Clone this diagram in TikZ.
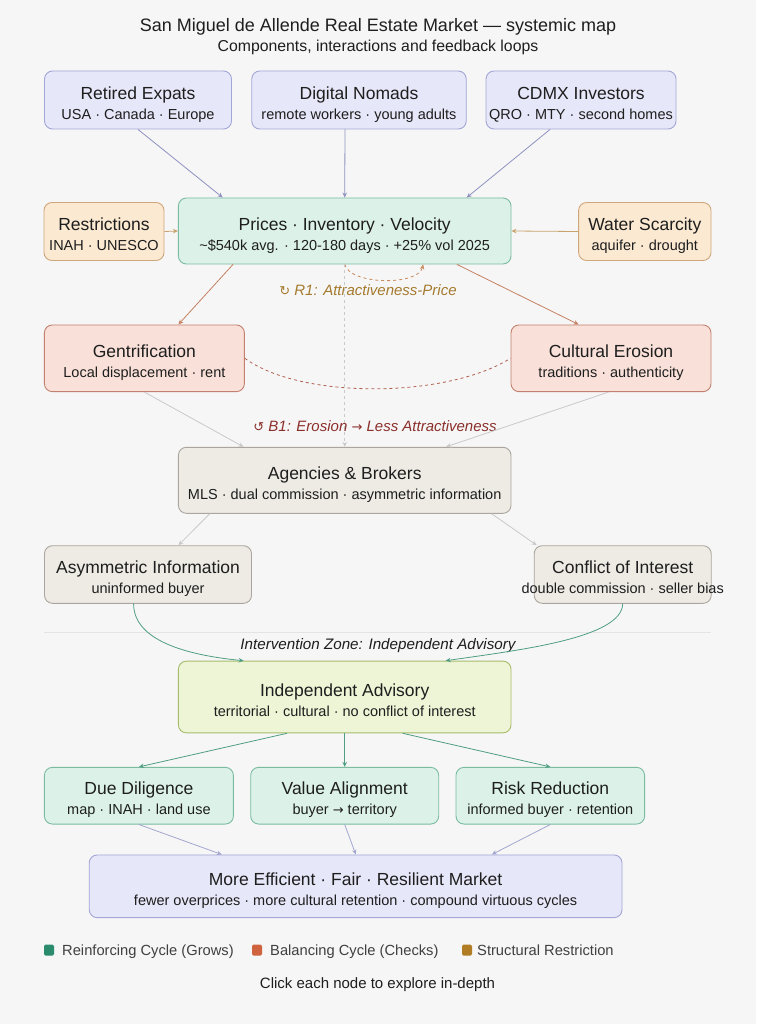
\documentclass[tikz,border=0pt]{standalone}
\usepackage{fontspec}
\setmainfont{Liberation Sans}
\newfontfamily\symf{DejaVu Sans}
\usetikzlibrary{arrows.meta}
\definecolor{bgc}{HTML}{F6F6F6}
\definecolor{txt}{HTML}{1E1E1E}
\definecolor{lavF}{HTML}{E6E7F8}
\definecolor{lavD}{HTML}{A3A6D6}
\definecolor{minF}{HTML}{DCF2E9}
\definecolor{minD}{HTML}{7BBBA0}
\definecolor{pchF}{HTML}{FBE9D2}
\definecolor{pchD}{HTML}{D0A77A}
\definecolor{salF}{HTML}{F9E1D9}
\definecolor{salD}{HTML}{C3806F}
\definecolor{gryF}{HTML}{EEEBE5}
\definecolor{gryD}{HTML}{ABA69D}
\definecolor{ygF}{HTML}{EEF5D6}
\definecolor{ygD}{HTML}{A5BC6A}
\definecolor{lavA}{HTML}{8E92C0}
\definecolor{pchA}{HTML}{C9A36E}
\definecolor{salA}{HTML}{C58062}
\definecolor{gryA}{HTML}{C9C9C9}
\definecolor{grnA}{HTML}{4F9E84}
\definecolor{lavB}{HTML}{A3A7CF}
\definecolor{rOne}{HTML}{A57A2E}
\definecolor{rOneL}{HTML}{C98A5E}
\definecolor{bOne}{HTML}{8B2F2B}
\definecolor{bOneL}{HTML}{B0604F}
\definecolor{sepc}{HTML}{E4E4E4}
\definecolor{lgG}{HTML}{2A8C6C}
\definecolor{lgO}{HTML}{D0633F}
\definecolor{lgY}{HTML}{B07D25}
\newcommand\bx[2]{{\fontsize{17.5}{20}\selectfont\rule{0pt}{22pt}#1}\\#2\rule[-3.5pt]{0pt}{3.5pt}}
\begin{document}
\begin{tikzpicture}[x=1pt,y=-1pt,
  box/.style={rounded corners=8pt, line width=0.9pt, align=center, inner sep=0pt, text=txt,
    font=\fontsize{14.5}{20}\selectfont},
  lav/.style={box, fill=lavF, draw=lavD},
  mint/.style={box, fill=minF, draw=minD},
  peach/.style={box, fill=pchF, draw=pchD},
  salmon/.style={box, fill=salF, draw=salD},
  greybox/.style={box, fill=gryF, draw=gryD},
  yg/.style={box, fill=ygF, draw=ygD},
  arr/.style={-{Stealth[length=5pt,width=4.5pt]}, line width=0.8pt},
  plain/.style={text=txt, inner sep=0pt},
  lgsq/.style={rounded corners=1.5pt, minimum width=10, minimum height=11, inner sep=0pt},
  lgtxt/.style={plain, anchor=base west, text=txt!85, font=\fontsize{14.7}{17}\selectfont}
]
\fill[bgc] (0,0) rectangle (756,1024);
\useasboundingbox (0,0) rectangle (756,1024);

% titles
\node[plain, anchor=base, font=\fontsize{18}{20}\selectfont] (title) at (378,32)
  {San Miguel de Allende Real Estate Market — systemic map};
\node[plain, anchor=base, font=\fontsize{15.8}{18}\selectfont] (subtitle) at (378,51.7)
  {Components, interactions and feedback loops};

% top row
\node[lav, minimum width=187, minimum height=58] (re) at (138,100) {\bx{Retired Expats}{USA · Canada · Europe}};
\node[lav, minimum width=214.5, minimum height=58] (dn) at (359,100) {\bx{Digital Nomads}{remote workers · young adults}};
\node[lav, minimum width=190, minimum height=58] (cd) at (581,100) {\bx{CDMX Investors}{QRO · MTY · second homes}};

% second row
\node[peach, minimum width=120, minimum height=58] (rs) at (104,231.5) {\bx{Restrictions}{INAH · UNESCO}};
\node[mint, minimum width=332.6, minimum height=66] (pr) at (344.7,231) {\bx{Prices · Inventory · Velocity}{\textasciitilde\$540k avg. · 120-180 days · +25\% vol 2025}};
\node[peach, minimum width=132.4, minimum height=58] (ws) at (644.8,231.5) {\bx{Water Scarcity}{aquifer · drought}};

% third row
\node[salmon, minimum width=200, minimum height=66.7] (gn) at (144.4,358.3) {\bx{Gentrification}{Local displacement · rent}};
\node[salmon, minimum width=200, minimum height=66.7] (ce) at (611,358.3) {\bx{Cultural Erosion}{traditions · authenticity}};

% agencies
\node[greybox, minimum width=332.6, minimum height=66] (ag) at (344.7,480.3) {\bx{Agencies \& Brokers}{MLS · dual commission · asymmetric information}};
\node[greybox, minimum width=207, minimum height=57.6] (as) at (148,574.5) {\bx{Asymmetric Information}{uninformed buyer}};
\node[greybox, minimum width=177, minimum height=57.6, inner xsep=-16pt] (ci) at (622.7,574.5) {\bx{Conflict of Interest}{double commission · seller bias}};

% intervention zone
\draw[sepc, line width=0.8pt] (44,632) -- (711,632);
\node[plain, font=\fontsize{15.2}{18}\selectfont\itshape] (iz) at (378,646) {Intervention Zone: Independent Advisory};

\node[yg, minimum width=332.6, minimum height=71.7] (ia) at (344.7,697) {\bx{Independent Advisory}{territorial · cultural · no conflict of interest}};

\node[mint, minimum width=189, minimum height=56.7] (dd) at (138.9,795.7) {\bx{Due Diligence}{map · INAH · land use}};
\node[mint, minimum width=188, minimum height=56.7] (va) at (344.7,795.7) {\bx{Value Alignment}{buyer {\symf\fontsize{13}{16}\selectfont →} territory}};
\node[mint, minimum width=188.6, minimum height=56.7] (rr) at (550.3,795.7) {\bx{Risk Reduction}{informed buyer · retention}};

\node[lav, minimum width=532.8, minimum height=62.7] (fm) at (355.6,886.3) {\bx{More Efficient · Fair · Resilient Market}{fewer overprices · more cultural retention · compound virtuous cycles}};

% connectors: top
\draw[arr, lavA] (re.south) -- ([xshift=-122pt]pr.north);
\draw[arr, lavA] ([xshift=-14pt]dn.south) -- (pr.north);
\draw[arr, lavA] ([xshift=-31pt]cd.south) -- ([xshift=122pt]pr.north);
\draw[arr, pchA] (rs.east) -- (pr.west);
\draw[arr, pchA] (ws.west) -- (pr.east);
\draw[arr, salA] ([xshift=-111.7pt]pr.south) -- ([xshift=34pt]gn.north);
\draw[arr, salA] ([xshift=112.3pt]pr.south) -- ([xshift=-32.4pt]ce.north);

% R1 loop
\draw[arr, rOneL, dashed, line width=0.8pt] (pr.south) .. controls (350,285) and (418,286) .. ([xshift=78.5pt]pr.south);
\node[plain, text=rOne, font=\fontsize{15}{18}\selectfont\itshape] (r1) at (368,290) {{\symf\upshape\fontsize{13}{16}\selectfont ↻} R1: Attractiveness-Price};

% vertical dashed
\draw[arr, gryA, dashed] (pr.south) -- (ag.north);

% B1 loop
\draw[bOneL, dashed, line width=0.8pt] (gn.east) .. controls (300,399) and (445,399) .. (ce.west);
\node[plain, text=bOne, font=\fontsize{15}{18}\selectfont\itshape] (b1) at (375,425.7) {{\symf\upshape\fontsize{13}{16}\selectfont ↺} B1: Erosion {\symf\upshape\fontsize{13}{16}\selectfont →} Less Attractiveness};

\draw[arr, gryA] (gn.south) -- ([xshift=-101.2pt]ag.north);
\draw[arr, gryA] ([xshift=-2.5pt]ce.south) -- ([xshift=101.3pt]ag.north);
\draw[arr, gryA] ([xshift=-135pt]ag.south) -- ([xshift=30.4pt]as.north);
\draw[arr, gryA] ([xshift=147pt]ag.south) -- ([xshift=-86pt]ci.north);

% into advisory
\draw[arr, grnA] ([xshift=-14.4pt]as.south) .. controls (133.6,640) and (185,655) .. ([xshift=-101pt]ia.north);
\draw[arr, grnA] (ci.south) .. controls (622,638) and (520,650) .. ([xshift=101pt]ia.north);

\draw[arr, grnA] ([xshift=-57.7pt]ia.south) -- (dd.north);
\draw[arr, grnA] (ia.south) -- (va.north);
\draw[arr, grnA] ([xshift=58pt]ia.south) -- (rr.north);

\draw[arr, lavB] (dd.south) -- ([xshift=-133.8pt]fm.north);
\draw[arr, lavB] (va.south) -- ([xshift=0.2pt]fm.north);
\draw[arr, lavB] (rr.south) -- ([xshift=136.2pt]fm.north);

% legend
\node[lgsq, fill=lgG] (lg1) at (49,950) {};
\node[lgtxt] (lt1) at (62,955) {Reinforcing Cycle (Grows)};
\node[lgsq, fill=lgO] (lg2) at (257,950) {};
\node[lgtxt] (lt2) at (270,955) {Balancing Cycle (Checks)};
\node[lgsq, fill=lgY] (lg3) at (467,950) {};
\node[lgtxt] (lt3) at (477,955) {Structural Restriction};

\node[plain, anchor=base, font=\fontsize{15}{17}\selectfont] (click) at (377.5,988) {Click each node to explore in-depth};
\end{tikzpicture}
\end{document}
